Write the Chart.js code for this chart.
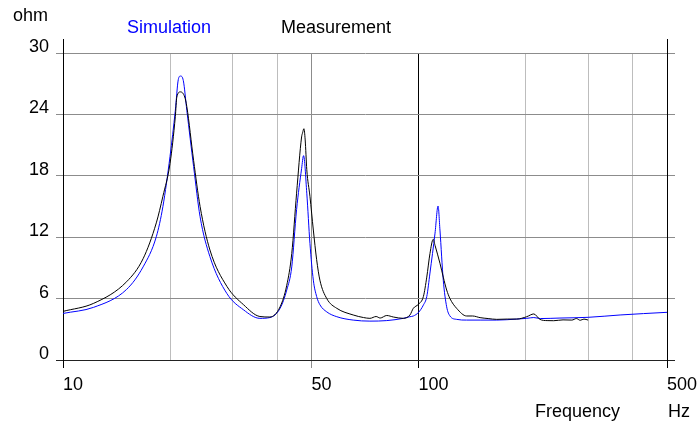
<!DOCTYPE html>
<html>
<head>
<meta charset="utf-8">
<script src="https://cdn.jsdelivr.net/npm/chart.js@4/dist/chart.umd.min.js"></script>
<style>
  html, body { margin: 0; padding: 0; background: #fff; }
  #wrap { width: 699px; height: 423px; position: relative; }
</style>
</head>
<body>
<div id="wrap"><canvas id="myChart" width="699" height="423"></canvas></div>
<script>
// impedance curves (Hz, ohm)
let simFreq = [10, 12.2, 15.1, 16.8, 18.3, 19.1, 20, 20.7, 21.1, 21.4, 21.8, 22.3, 23.3, 24.3, 25.9, 28.9, 32.2, 35.8, 38.2,
    40.8, 42.6, 44.0, 45.4, 46.9, 47.5, 48.5, 49.5, 50.6, 51.7, 52.8, 55.2, 58.9, 65.5, 73, 81.4, 90.6, 94.6, 96.7,
    100, 103.2, 105.5, 107.7, 111.3, 113.5, 114.9, 117.4, 120, 122.6, 128, 136.6, 149, 166, 189, 201.5, 211, 220,
    250, 300, 369, 500];
let simOhm = [4.55, 5.15, 6.9, 9.1, 12.05, 15.0, 19.9, 24.4, 27.4, 27.75, 27.3, 24.4, 18.9, 14.0, 10.1, 6.5, 4.9, 4.07, 4.15,
    5.05, 6.84, 9.1, 14.7, 18.7, 19.97, 16.3, 11.4, 7.8, 6.2, 5.4, 4.7, 4.23, 3.9, 3.8, 3.85, 4.07, 4.23, 4.3,
    4.65, 5.37, 6.2, 8.5, 12.4, 15.05, 12.7, 7.8, 5.2, 4.3, 3.97, 3.9, 3.9, 3.9, 4.0, 4.07, 4.15, 4.05,
    4.1, 4.17, 4.4, 4.66];

let measFreq = [10, 12.2, 15.1, 16.8, 18.3, 19.1, 20, 20.7, 20.9, 21.4, 22.0, 22.3, 23.3, 24.3, 25.9, 28.9, 32.2, 35.8, 38.2,
    40.8, 42.6, 44.0, 45.4, 46.9, 47.2, 47.6, 48.0, 48.5, 49.5, 50.6, 51.7, 52.8, 55.2, 58.9, 65.5, 70, 73, 76, 78, 81.4, 85,
    90.6, 94.6, 96.7, 100, 103.2, 105.5, 107.7, 110, 111.3, 114.9, 117.4, 120, 122.6, 128, 136.6, 142, 149, 157,
    166, 178, 189, 201.5, 211, 219.6, 230, 240, 255, 270, 278, 285, 292, 300];
let measOhm = [4.75, 5.54, 7.65, 9.9, 13.4, 16.0, 19.2, 23.8, 25.7, 26.2, 25.7, 24.75, 19.5, 15.0, 10.75, 7.2, 5.4, 4.25, 4.2,
    5.2, 7.3, 10.4, 16.3, 21.8, 22.2, 22.6, 21.5, 18.6, 16.0, 12.7, 9.8, 7.8, 6.0, 5.05, 4.4, 4.15, 4.07, 4.25, 4.1, 4.35, 4.2,
    4.07, 4.4, 5.05, 5.45, 6.2, 8.1, 10.4, 11.8, 11.2, 9.45, 8.1, 6.84, 6.0, 5.05, 4.3, 4.3, 4.14, 4.05,
    3.97, 4.0, 4.0, 4.23, 4.5, 3.97, 3.85, 3.84, 3.92, 3.9, 4.05, 3.88, 4.0, 3.9];

let xGridValues = [10, 20, 30, 40, 50, 100, 200, 300, 400, 500];
let xLabelValues = [10, 50, 100, 500];
let yTickValues = [0, 6, 12, 18, 24, 30];

let toPoints = (xs, ys) => xs.map((x, i) => ({ x: x, y: ys[i] }));

let ctx = document.getElementById('myChart').getContext('2d');
let fontFamily = 'Arial, "Liberation Sans", sans-serif';
let tickFont = { family: fontFamily, size: 18 };

// texts round the plot + the two border stubs above the 30 line
let decorations = {
    id: 'decorations',
    afterDraw(chart) {
        const c = chart.ctx;
        const area = chart.chartArea;
        c.save();
        c.strokeStyle = '#000';
        c.lineWidth = 1;
        c.beginPath();
        c.moveTo(Math.round(area.left) + 0.5, 39);
        c.lineTo(Math.round(area.left) + 0.5, area.top);
        c.moveTo(Math.round(area.right) + 0.5, 39);
        c.lineTo(Math.round(area.right) + 0.5, area.top);
        c.stroke();
        c.font = '18px ' + fontFamily;
        c.textBaseline = 'alphabetic';
        c.fillStyle = '#000';
        c.fillText('ohm', 13, 21);
        c.fillStyle = '#0000ff';
        c.fillText('Simulation', 127, 33);
        c.fillStyle = '#000';
        c.fillText('Measurement', 281, 33);
        c.fillText('Frequency', 535, 417);
        c.fillText('Hz', 668, 417);
        c.restore();
    }
};

let lineStyle = {
    borderWidth: 1,
    pointRadius: 0,
    cubicInterpolationMode: 'monotone'
};

let myChart = new Chart(ctx, {
    type: 'line',
    data: {
        datasets: [{
            label: 'Measurement',
            data: toPoints(measFreq, measOhm),
            borderColor: '#000000',
            ...lineStyle
        }, {
            label: 'Simulation',
            data: toPoints(simFreq, simOhm),
            borderColor: '#0000ff',
            ...lineStyle
        }]
    },
    options: {
        responsive: false,
        animation: false,
        layout: { padding: { top: 53, left: 0, right: 0, bottom: 0 } },
        plugins: { legend: { display: false }, tooltip: { enabled: false } },
        scales: {
            x: {
                type: 'logarithmic',
                min: 10,
                max: 500,
                afterBuildTicks: axis => { axis.ticks = xGridValues.map(v => ({ value: v })); },
                afterFit: axis => {
                    axis.height = 63;
                    axis.paddingLeft = 0;
                    axis.paddingRight = 0;
                },
                ticks: {
                    autoSkip: false,
                    maxRotation: 0,
                    align: 'start',
                    padding: 6,
                    color: '#000',
                    font: tickFont,
                    callback: value => xLabelValues.includes(value) ? String(value) : ''
                },
                grid: {
                    tickLength: 8,
                    color: c => {
                        let v = c.tick && c.tick.value;
                        if (v === 10 || v === 100 || v === 500) return '#000';
                        if (v === 50) return '#8c8c8c';
                        return '#bdbdbd';
                    },
                    tickColor: c => {
                        let v = c.tick && c.tick.value;
                        if (v === 50) return '#8c8c8c';
                        return xLabelValues.includes(v) ? '#000' : 'rgba(0,0,0,0)';
                    }
                },
                border: { display: true, color: '#222', width: 1 }
            },
            y: {
                min: 0,
                max: 30,
                afterBuildTicks: axis => { axis.ticks = yTickValues.map(v => ({ value: v })); },
                afterFit: axis => { axis.width = 63; },
                ticks: {
                    padding: 7,
                    labelOffset: -6,
                    color: '#000',
                    font: tickFont
                },
                grid: {
                    tickLength: 7,
                    color: c => (c.tick && c.tick.value === 0) ? '#222' : '#8c8c8c'
                },
                border: { display: true, color: '#000', width: 1 }
            },
            y2: {
                position: 'right',
                min: 0,
                max: 30,
                afterBuildTicks: axis => { axis.ticks = yTickValues.map(v => ({ value: v })); },
                afterFit: axis => { axis.width = 32; },
                ticks: { display: false },
                grid: {
                    drawOnChartArea: false,
                    tickLength: 8,
                    tickColor: c => (c.tick && c.tick.value === 0) ? '#222' : '#8c8c8c'
                },
                border: { display: true, color: '#000', width: 1 }
            }
        }
    },
    plugins: [decorations]
});
</script>
</body>
</html>
